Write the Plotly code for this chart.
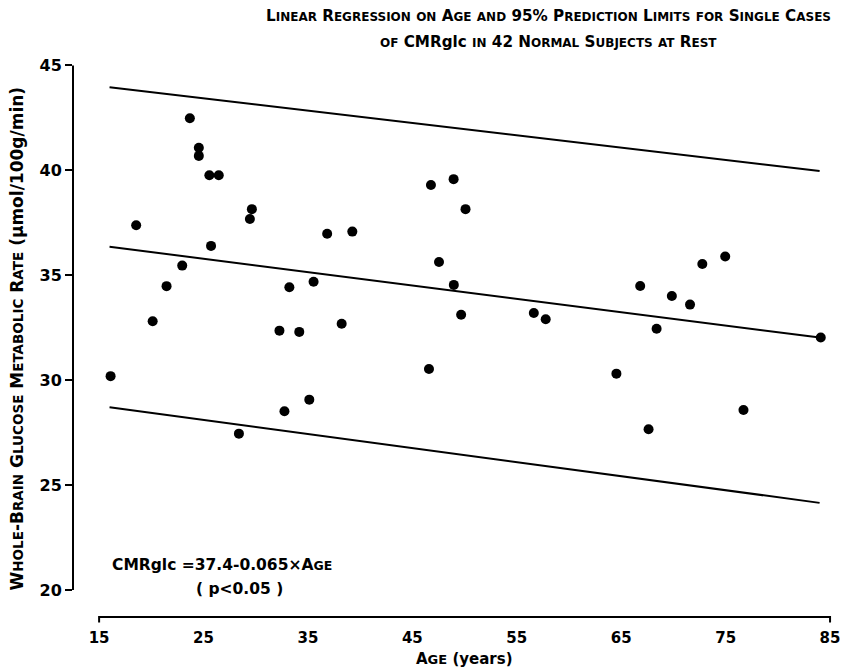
import plotly.graph_objects as go
import re

# ---------------- data ----------------
age = [23.69, 24.55, 24.55, 25.56, 26.46, 29.63, 29.44, 18.55, 36.84, 25.72,
       22.96, 21.46, 33.22, 35.54, 20.13, 32.27, 34.17, 38.23, 16.10, 35.13,
       32.75, 28.39, 46.78, 48.95, 50.09, 39.25, 47.55, 48.97, 49.67, 56.63,
       57.77, 46.59, 72.77, 74.96, 66.82, 69.85, 71.59, 68.39, 84.11, 64.54,
       76.71, 67.62]
cmr = [42.48, 41.08, 40.69, 39.77, 39.77, 38.15, 37.68, 37.38, 36.98, 36.40,
       35.46, 34.48, 34.43, 34.69, 32.81, 32.36, 32.30, 32.69, 30.19, 29.07,
       28.52, 27.45, 39.30, 39.58, 38.15, 37.08, 35.63, 34.54, 33.12, 33.20,
       32.90, 30.53, 35.54, 35.89, 34.49, 34.01, 33.60, 32.45, 32.03, 30.31,
       28.58, 27.66]

line_age = [16.0, 84.0]
fit_line = [36.36, 32.03]
upper_limit = [43.96, 39.97]
lower_limit = [28.71, 24.15]

x_ticks = [15, 25, 35, 45, 55, 65, 75, 85]
y_ticks = [20, 25, 30, 35, 40, 45]

FONT = "DejaVu Sans"


def sc(text, small):
    """small caps: lowercase runs become smaller uppercase"""
    def rep(m):
        return '<span style="font-size:%gpx">%s</span>' % (small, m.group(0).upper())
    return re.sub(r"[a-z]+", rep, text)


title_l1 = "<b>" + sc("Linear Regression on Age and 95% Prediction Limits for Single Cases", 12) + "</b>"
title_l2 = "<b>" + sc("of ", 12) + "CMRglc" + sc(" in 42 Normal Subjects at Rest", 12) + "</b>"
ylab_txt = "<b>" + sc("Whole-Brain Glucose Metabolic Rate", 13.5) + " (μmol/100g/min)</b>"
xlab_txt = "<b>" + sc("Age", 13) + " (years)</b>"

fig = go.Figure()

for yy in (upper_limit, fit_line, lower_limit):
    fig.add_trace(go.Scatter(x=line_age, y=yy, mode="lines",
                             line=dict(color="black", width=2), hoverinfo="skip",
                             showlegend=False))

fig.add_trace(go.Scatter(x=age, y=cmr, mode="markers",
                         marker=dict(color="black", size=10), showlegend=False))

X0, X1 = 12.5, 85.57
Y0, Y1 = 18.71, 45.26

# y axis line (from 20 to 45) at left edge
fig.add_shape(type="line", xref="paper", yref="y", x0=0, x1=0,
              y0=y_ticks[0], y1=y_ticks[-1], line=dict(color="black", width=2))
# x axis line with end ticks
fig.add_shape(type="path", xref="x", yref="paper",
              path="M %g,-0.010 L %g,0 L %g,0 L %g,-0.010" % (x_ticks[0], x_ticks[0], x_ticks[-1], x_ticks[-1]),
              line=dict(color="black", width=2))

fig.add_annotation(text="<b>CMRglc =37.4-0.065×" + sc("Age", 12.5) + "</b>", x=16.0, y=21.19,
                   xref="x", yref="y", xanchor="left", yanchor="middle", showarrow=False,
                   font=dict(family=FONT, size=15.5, color="black"))
fig.add_annotation(text="<b>( p<0.05 )</b>", x=28.4, y=20.05, xref="x", yref="y",
                   xanchor="center", yanchor="middle", showarrow=False,
                   font=dict(family=FONT, size=15.5, color="black"))

fig.add_annotation(text=ylab_txt, textangle=-90, x=-0.073, y=32.0, xref="paper", yref="y",
                   xanchor="center", yanchor="middle", showarrow=False,
                   font=dict(family=FONT, size=17, color="black"))
fig.add_annotation(text=xlab_txt, x=50, y=-0.075, xref="x", yref="paper",
                   xanchor="center", yanchor="middle", showarrow=False,
                   font=dict(family=FONT, size=15, color="black"))
fig.add_annotation(text=title_l1, x=(551 - 73) / 767, y=(617 - 16) / 557,
                   xref="paper", yref="paper", xanchor="center", yanchor="middle",
                   showarrow=False, font=dict(family=FONT, size=15.2, color="black"))
fig.add_annotation(text=title_l2, x=(551 - 73) / 767, y=(617 - 42) / 557,
                   xref="paper", yref="paper", xanchor="center", yanchor="middle",
                   showarrow=False, font=dict(family=FONT, size=15.2, color="black"))

fig.update_layout(
    width=846, height=671,
    margin=dict(l=73, r=6, t=60, b=54),
    paper_bgcolor="white", plot_bgcolor="white",
    font=dict(family=FONT, color="black"),
    xaxis=dict(range=[X0, X1], tickvals=x_ticks, ticktext=["<b>%d</b>" % v for v in x_ticks],
               showgrid=False, zeroline=False, showline=False,
               ticks="outside", ticklen=7, tickcolor="rgba(0,0,0,0)",
               tickfont=dict(family=FONT, size=15, color="black")),
    yaxis=dict(range=[Y0, Y1], tickvals=y_ticks, ticktext=["<b>%d</b>" % v for v in y_ticks],
               showgrid=False, zeroline=False, showline=False,
               ticks="outside", ticklen=7, tickwidth=2, tickcolor="black",
               tickfont=dict(family=FONT, size=16, color="black")),
)

fig.write_html("out.html")
